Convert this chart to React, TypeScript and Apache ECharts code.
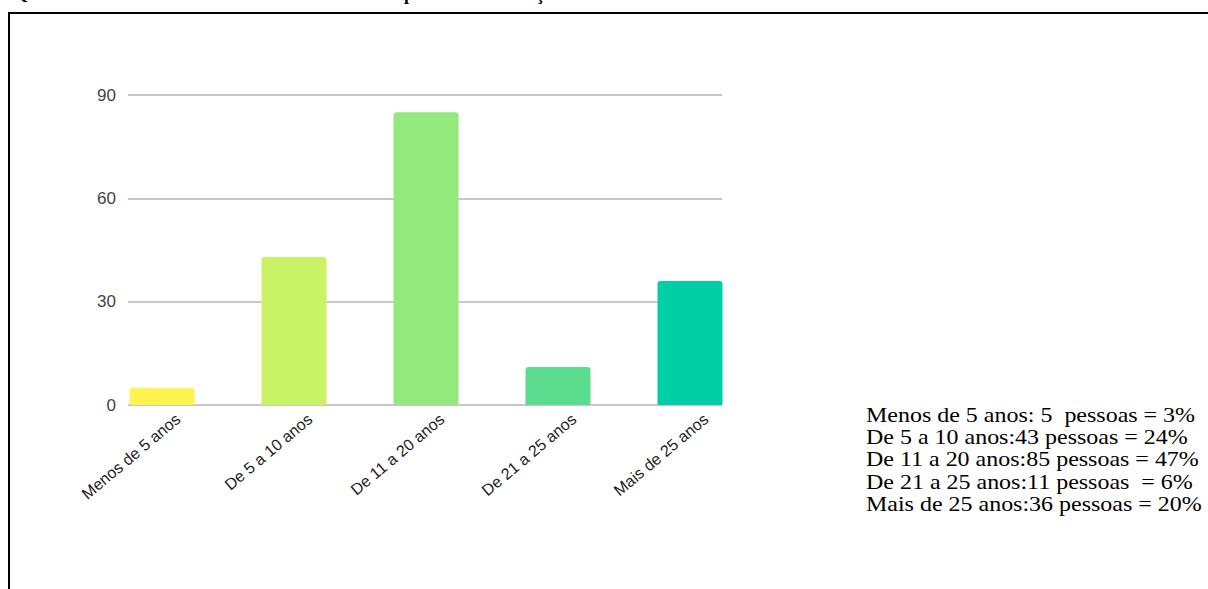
import React, { useEffect, useRef } from "react";
import * as echarts from "echarts";

const categories = ["Menos de 5 anos", "De 5 a 10 anos", "De 11 a 20 anos", "De 21 a 25 anos", "Mais de 25 anos"];
const values = [5, 43, 85, 11, 36];
const barColors = ["#FFF350", "#C9F265", "#93E97B", "#5CDC8E", "#00CFA5"];
const yTicks = { min: 0, max: 90, interval: 30 };
const notes = [
  "Menos de 5 anos: 5\u00a0\u00a0pessoas = 3%",
  "De 5 a 10 anos:43 pessoas = 24%",
  "De 11 a 20 anos:85 pessoas = 47%",
  "De 21 a 25 anos:11 pessoas\u00a0\u00a0= 6%",
  "Mais de 25 anos:36 pessoas = 20%",
];

export default function App() {
  const ref = useRef<HTMLDivElement>(null);
  useEffect(() => {
    if (!ref.current) return;
    const chart = echarts.init(ref.current, null, { renderer: "svg" });
    const W = 1208, H = 589;
    const top = 95, bottomY = 405;
    const option: any = {
      animation: false,
      backgroundColor: "#ffffff",
      grid: [
        { left: 128, right: W - 722, top, bottom: H - bottomY },
        { left: 96, right: W - 756, top, bottom: H - bottomY },
        { left: 112, right: W - 772, top, bottom: H - bottomY },
      ],
      xAxis: [
        { type: "value", gridIndex: 0, show: false, min: 0, max: 1 },
        {
          type: "category", gridIndex: 1, data: categories,
          axisLine: { show: false }, axisTick: { show: false }, axisLabel: { show: false },
        },
        {
          type: "category", gridIndex: 2, data: categories,
          axisLine: { show: false }, axisTick: { show: false },
          axisLabel: {
            rotate: 40, margin: 12, interval: 0,
            fontFamily: "Liberation Sans, Arial, sans-serif", fontSize: 16, color: "#222",
          },
        },
      ],
      yAxis: [
        {
          type: "value", gridIndex: 0, ...yTicks,
          axisLine: { show: false }, axisTick: { show: false },
          axisLabel: { margin: 12, fontFamily: "Liberation Sans, Arial, sans-serif", fontSize: 17, color: "#444" },
          splitLine: { lineStyle: { color: "#C8C8C8", width: 2 } },
        },
        { type: "value", gridIndex: 1, ...yTicks, show: false },
        { type: "value", gridIndex: 2, ...yTicks, show: false },
      ],
      series: [
        {
          type: "bar", xAxisIndex: 1, yAxisIndex: 1, barWidth: 65,
          data: values.map((v, i) => ({ value: v, itemStyle: { color: barColors[i], borderRadius: [3, 3, 0, 0] } })),
        },
      ],
      graphic: [
        { type: "line", shape: { x1: 8, y1: 13, x2: W, y2: 13 }, style: { stroke: "#000", lineWidth: 2 } },
        { type: "line", shape: { x1: 9, y1: 12, x2: 9, y2: H }, style: { stroke: "#000", lineWidth: 2 } },
        { type: "text", x: 14, y: -16, style: { text: "Q", font: "bold 18px 'Liberation Serif', serif", fill: "#000" } },
        { type: "text", x: 404, y: -15, style: { text: "p", font: "bold 18px 'Liberation Serif', serif", fill: "#000" } },
        { type: "text", x: 536, y: -15, style: { text: "ç", font: "bold 18px 'Liberation Serif', serif", fill: "#000" } },
        ...notes.map((t, i) => ({
          type: "text", x: 866, y: 403 + i * 22.4, scaleX: 1.09,
          style: { text: t, font: "22px 'Liberation Serif', 'Times New Roman', serif", fill: "#000", verticalAlign: "top" },
        })),
      ],
    };
    chart.setOption(option);
    return () => chart.dispose();
  }, []);
  return <div ref={ref} style={{ position: "fixed", left: 0, top: 0, width: 1208, height: 589 }} />;
}
